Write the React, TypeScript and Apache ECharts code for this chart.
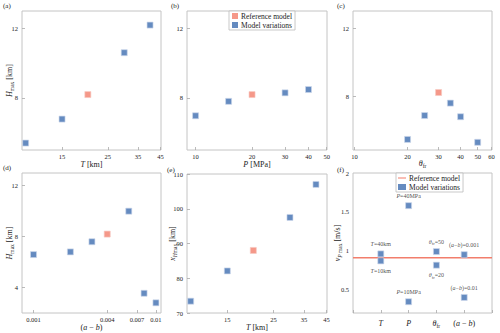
import React, { useEffect, useRef } from 'react';
import * as echarts from 'echarts';

// ---- data ----
const T_km = [10, 15, 20, 30, 40];
const Hmax_T = [5.4, 6.78, 8.19, 10.6, 12.19];
const P_MPa = [10, 15, 20, 30, 40];
const Hmax_P = [6.97, 7.8, 8.19, 8.29, 8.48];
const theta_fr = [20, 25, 30, 35, 40, 50];
const Hmax_theta = [5.47, 6.87, 8.22, 7.6, 6.8, 5.3];
const a_minus_b = [0.001, 0.002, 0.003, 0.004, 0.006, 0.008, 0.01];
const Hmax_ab = [6.59, 6.8, 7.6, 8.2, 10.0, 3.55, 2.8];
const xHmax_T = [73.4, 82.1, 88.0, 97.5, 107.0];

const T_ref = 20;
const P_ref = 20;
const theta_ref = 30;
const ab_ref = 0.004;

const fCategories = ['T', 'P', 'θfr', '(a−b)'];
const fVariationCategory = ['T', 'T', 'P', 'P', 'θfr', 'θfr', '(a−b)', '(a−b)'];
const fVariationValues = [0.96, 0.87, 1.58, 0.345, 0.99, 0.815, 0.95, 0.4];
const fVariationLabels = ['T=40km', 'T=10km', 'P=40MPa', 'P=10MPa', 'θfr=50', 'θfr=20', '(a−b)=0.001', '(a−b)=0.01'];
const fLabelAbove = [true, false, true, true, true, false, true, true];
const fReference = 0.91;

const xTicksT = [15, 25, 35, 45];
const xTicksP = [10, 20, 30, 40, 50];
const xTicksTheta = [10, 20, 30, 40, 50, 60];
const xTicksAB = [0.001, 0.004, 0.007, 0.01];
const yTicksH = [8, 12];
const yTicksHab = [4, 8, 12];
const yTicksXH = [70, 80, 90, 100, 110];
const yTicksV = [0.5, 1, 1.5, 2];

// ---- styles ----
const FONT = '"Liberation Serif", "DejaVu Serif", serif';
const BLUE = '#3f6eb0';
const RED = '#f27e6c';
const TEXT = '#222';

const rich = {
  i: { fontStyle: 'italic', fontFamily: FONT, fontSize: 8, color: TEXT, lineHeight: 12 },
  s: { fontFamily: FONT, fontSize: 5.5, color: TEXT, verticalAlign: 'bottom', lineHeight: 8 },
  si: { fontFamily: FONT, fontSize: 5.5, fontStyle: 'italic', color: TEXT, verticalAlign: 'bottom', lineHeight: 8 },
  n: { fontFamily: FONT, fontSize: 8, color: TEXT, lineHeight: 12 },
};
const richSmall = {
  i: { fontStyle: 'italic', fontFamily: FONT, fontSize: 6, color: TEXT, lineHeight: 9 },
  s: { fontFamily: FONT, fontSize: 4.5, color: TEXT, verticalAlign: 'bottom', lineHeight: 6 },
  n: { fontFamily: FONT, fontSize: 6, color: TEXT, lineHeight: 9 },
};

function richLabel(txt: string): string {
  if (txt === 'T') return '{i|T}';
  if (txt === 'P') return '{i|P}';
  if (txt === 'θfr') return '{i|θ}{s|fr}';
  if (txt === '(a−b)') return '{n|(}{i|a}{n| − }{i|b}{n|)}';
  return '{n|' + txt + '}';
}

function pointLabel(txt: string): string {
  const [lhs, rhs] = txt.split('=');
  let l = '';
  if (lhs === 'θfr') l = '{i|θ}{s|fr}';
  else if (lhs === '(a−b)') l = '{n|(}{i|a}{n|−}{i|b}{n|)}';
  else l = '{i|' + lhs + '}';
  return l + '{n|=' + rhs + '}';
}

const grids = [
  { left: 22, top: 11, width: 139, height: 139 },
  { left: 187, top: 11, width: 140, height: 139 },
  { left: 353, top: 11, width: 139, height: 139 },
  { left: 22, top: 173, width: 139, height: 140 },
  { left: 187, top: 174, width: 140, height: 139 },
  { left: 353, top: 173, width: 139, height: 140 },
].map((g) => ({
  ...g,
  show: true,
  outerBoundsMode: 'none',
  borderColor: '#c4c4c4',
  borderWidth: 1,
  backgroundColor: '#fff',
}));

const tickStyle = { inside: true, length: 3, lineStyle: { color: '#aaa', width: 0.8 } };
const labelStyle = { fontFamily: FONT, fontSize: 6.5, color: TEXT, hideOverlap: false };

function logX(gridIndex: number, min: number, max: number, ticks: number[], name: string, nameGap: number) {
  return {
    type: 'log',
    logBase: 10,
    gridIndex,
    min,
    max,
    name,
    nameLocation: 'middle',
    nameGap,
    nameMoveOverlap: false,
    nameTextStyle: { fontFamily: FONT, fontSize: 8, color: TEXT, lineHeight: 12, rich },
    axisLine: { show: false },
    splitLine: { show: false },
    minorTick: { show: false },
    axisTick: { ...tickStyle, customValues: ticks },
    axisLabel: { ...labelStyle, margin: 3, customValues: ticks, formatter: (v: number) => String(v) },
  };
}

function valY(gridIndex: number, min: number, max: number, ticks: number[], name: string | null, nameGap: number) {
  const axis: any = {
    type: 'value',
    gridIndex,
    min,
    max,
    axisLine: { show: false },
    splitLine: { show: false },
    axisTick: { ...tickStyle, customValues: ticks },
    axisLabel: { ...labelStyle, margin: 4, customValues: ticks, formatter: (v: number) => String(v) },
  };
  if (name) {
    Object.assign(axis, {
      name,
      nameLocation: 'middle',
      nameGap,
      nameMoveOverlap: false,
      nameRotate: 90,
      nameTextStyle: { fontFamily: FONT, fontSize: 8, color: TEXT, lineHeight: 12, rich },
    });
  }
  return axis;
}

function splitSeries(gridIndex: number, xs: number[], ys: number[], ref: number) {
  const refPts: number[][] = [];
  const varPts: number[][] = [];
  xs.forEach((x, k) => (x === ref ? refPts : varPts).push([x, ys[k]]));
  const base = {
    type: 'scatter',
    xAxisIndex: gridIndex,
    yAxisIndex: gridIndex,
    symbol: 'rect',
    symbolSize: 6,
  };
  return [
    { ...base, name: 'Model variations', data: varPts, itemStyle: { color: BLUE, borderColor: '#cdd8ea', borderWidth: 0.8 } },
    { ...base, name: 'Reference model', data: refPts, itemStyle: { color: RED, borderColor: '#f7c8c0', borderWidth: 0.8 } },
  ];
}

const legendText = { fontFamily: FONT, fontSize: 7.5, color: TEXT, padding: [0, 0, 0, -2] };

export default function App() {
  const ref = useRef<HTMLDivElement>(null);
  useEffect(() => {
    document.body.style.margin = '0';
    const chart = echarts.init(ref.current!, null, { renderer: 'svg' });
    const fAxisData = ['', ...fCategories, ''];
    const option = {
      animation: false,
      backgroundColor: '#fff',
      grid: grids,
      xAxis: [
        logX(0, 9.6, 45.2, xTicksT, '{i|T} [km]', 8),
        logX(1, 9, 50.2, xTicksP, '{i|P} [MPa]', 8),
        logX(2, 9.8, 60.3, xTicksTheta, '{i|θ}{s|fr}', 7),
        logX(3, 0.000805, 0.011, xTicksAB, '{n|(}{i|a}{n| − }{i|b}{n|)}', 8),
        logX(4, 9.6, 45.2, xTicksT, '{i|T} [km]', 8),
        {
          type: 'category',
          gridIndex: 5,
          data: fAxisData,
          boundaryGap: false,
          axisLine: { show: false },
          splitLine: { show: false },
          axisTick: { ...tickStyle, interval: 0 },
          axisLabel: {
            interval: 0,
            margin: 4,
            hideOverlap: false,
            rich,
            formatter: (v: string) => (v ? richLabel(v) : ''),
          },
        },
      ],
      yAxis: [
        valY(0, 5, 13, yTicksH, '{i|H}{s|max} [km]', 7),
        valY(1, 5, 13, yTicksH, null, 7),
        valY(2, 4.85, 13, yTicksH, null, 7),
        valY(3, 2, 13, yTicksHab, '{i|H}{s|max} [km]', 7),
        valY(4, 70, 110, yTicksXH, '{i|x}{si|H}{s|max} [km]', 9),
        valY(5, 0.2, 2, yTicksV, '{i|v}{si|P}{s| max} [m/s]', 10),
      ],
      legend: [
        {
          left: 229,
          top: 11,
          orient: 'vertical',
          itemWidth: 6,
          itemHeight: 6,
          itemGap: 1,
          padding: [1, 3, 1, 3],
          borderColor: '#bbb',
          borderWidth: 0.8,
          borderRadius: 0,
          backgroundColor: '#fff',
          textStyle: legendText,
          data: [
            { name: 'Reference model', icon: 'rect', itemStyle: { color: RED, borderWidth: 0 } },
            { name: 'Model variations', icon: 'rect', itemStyle: { color: BLUE, borderWidth: 0 } },
          ],
        },
        {
          left: 396,
          top: 173,
          orient: 'vertical',
          itemWidth: 8,
          itemHeight: 6,
          itemGap: 1,
          padding: [1, 3, 1, 2],
          borderColor: '#bbb',
          borderWidth: 0.8,
          borderRadius: 0,
          backgroundColor: '#fff',
          textStyle: legendText,
          data: [
            { name: 'Reference model', icon: 'path://M0,0 L10,0 L10,1.6 L0,1.6 Z', itemStyle: { color: RED, borderWidth: 0 } },
            { name: 'Model variations', icon: 'rect', itemStyle: { color: BLUE, borderWidth: 0 } },
          ],
        },
      ],
      series: [
        ...splitSeries(0, T_km, Hmax_T, T_ref),
        ...splitSeries(1, P_MPa, Hmax_P, P_ref),
        ...splitSeries(2, theta_fr, Hmax_theta, theta_ref),
        ...splitSeries(3, a_minus_b, Hmax_ab, ab_ref),
        ...splitSeries(4, T_km, xHmax_T, T_ref),
        {
          type: 'line',
          name: 'Reference model',
          xAxisIndex: 5,
          yAxisIndex: 5,
          showSymbol: false,
          symbol: 'none',
          data: [
            [0, fReference],
            [fAxisData.length - 1, fReference],
          ],
          lineStyle: { color: RED, width: 1.5 },
          itemStyle: { color: RED },
          z: 1,
        },
        {
          type: 'scatter',
          name: 'Model variations',
          xAxisIndex: 5,
          yAxisIndex: 5,
          symbol: 'rect',
          symbolSize: 6,
          z: 3,
          itemStyle: { color: BLUE, borderColor: '#cdd8ea', borderWidth: 0.8 },
          data: fVariationValues.map((v, k) => ({
            value: [fAxisData.indexOf(fVariationCategory[k]), v],
            label: {
              show: true,
              position: fLabelAbove[k] ? 'top' : 'bottom',
              distance: 2,
              rich: richSmall,
              formatter: () => pointLabel(fVariationLabels[k]),
            },
          })),
        },
      ],
      graphic: [
        ['(a)', 3, 6],
        ['(b)', 171, 6],
        ['(c)', 337, 6],
        ['(d)', 3, 168],
        ['(e)', 167, 170],
        ['(f)', 337, 170],
      ].map(([t, x, y]) => ({
        type: 'text',
        x: x as number,
        y: y as number,
        style: { text: t as string, font: '7px ' + FONT, fill: TEXT, verticalAlign: 'middle' },
      })),
    };
    chart.setOption(option as any);
    return () => chart.dispose();
  }, []);
  return <div ref={ref} style={{ width: 500, height: 333 }} />;
}
